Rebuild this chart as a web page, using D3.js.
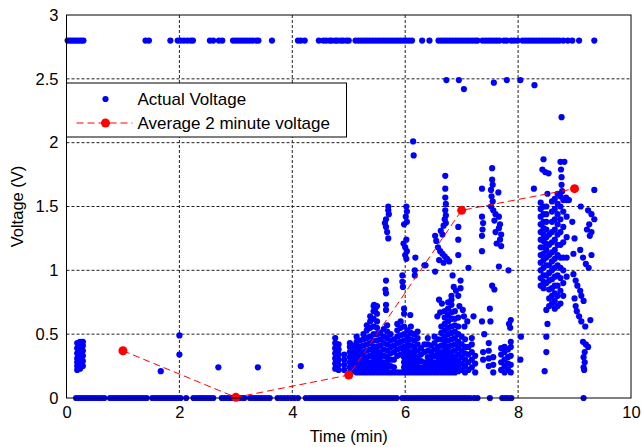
<!DOCTYPE html>
<html>
<head>
<meta charset="utf-8">
<script src="https://cdn.jsdelivr.net/npm/d3@7"></script>
<style>
  body { margin: 0; background: #fff; }
  svg { font-family: "Liberation Sans", Arial, sans-serif; }
  .tick text { font-size: 16.5px; fill: #000; }
</style>
</head>
<body>
<svg width="642" height="447"></svg>
<script>
// average 2 minute voltage
var avgTime = [1, 3, 5, 7, 9];
var avgVolt = [0.37, 0.005, 0.18, 1.47, 1.64];

// readings stuck at the 2.8 V rail
var railVolt = 2.8;
var railTimes = [0.02,0.06,0.1,0.14,0.18,0.22,0.26,0.3,
  1.4,1.46,1.84,1.97,2.02,2.08,2.14,2.2,2.24,
  2.54,2.6,2.7,2.76,2.95,3.0,3.05,3.1,3.15,3.2,3.25,3.3,3.36,3.4,3.64,
  4.1,4.15,4.22,4.47,4.55,4.6,4.66,4.7,4.76,4.8,4.86,4.9,4.96,5.0,
  5.12,5.17,5.22,5.27,5.32,5.37,5.42,5.47,5.52,5.57,5.62,5.67,5.72,5.77,5.82,5.87,5.92,5.97,6.02,6.07,6.12,
  6.3,6.43,6.59,6.64,6.69,6.74,6.79,6.84,6.89,6.94,6.99,7.04,7.09,7.14,7.19,7.24,7.28,
  7.37,7.42,7.47,7.52,7.57,7.62,7.67,7.75,7.8,7.88,7.93,7.99,
  8.08,8.13,8.18,8.23,8.28,8.33,8.38,8.43,8.48,8.53,8.58,8.63,8.68,8.73,8.8,8.88,8.96,9.08,9.35];

// readings at 0 V
var zeroTimes = [0.17,0.22,0.27,0.32,0.37,0.42,0.47,0.52,0.57,0.62,0.67,0.77,0.82,0.87,0.92,0.97,
  1.02,1.07,1.12,1.17,1.22,1.27,1.32,1.37,1.42,1.52,1.57,1.62,1.67,1.72,1.77,1.82,1.87,1.92,1.97,2.02,
  2.12,2.25,2.3,2.35,2.4,2.45,2.5,2.55,2.6,2.75,2.8,2.85,2.9,2.95,3.0,3.05,3.1,3.15,3.25,3.3,3.35,
  3.4,3.45,3.5,3.55,3.6,3.74,3.8,3.86,3.92,3.98,4.04,4.1,4.24,4.3,4.35,4.4,4.45,4.5,4.55,4.6,4.65,
  4.7,4.75,4.8,4.85,4.9,4.95,5.0,5.05,5.1,5.15,5.2,5.25,5.3,5.35,5.4,5.45,5.5,5.55,5.6,5.65,5.7,
  5.75,5.8,5.85,5.95,6.0,6.05,6.1,6.15,6.2,6.25,6.3,6.35,6.4,6.45,6.5,6.55,6.6,6.65,6.7,6.75,6.8,
  6.85,6.9,6.95,7.0,7.05,7.1,7.15,7.22,7.28,7.5,7.72,7.77,7.82,7.88,9.16];

// vertical strips of readings: [time, [voltages]]
var strips = [
  [0.19, [0.22,0.25,0.28,0.31,0.35,0.39,0.43]],
  [0.24, [0.23,0.26,0.3,0.33,0.37,0.4,0.44]],
  [0.29, [0.25,0.29,0.33,0.37,0.41,0.44]],
  [4.76, [0.23,0.27,0.31,0.35,0.39,0.43,0.47]],
  [4.82, [0.22,0.26,0.3,0.34,0.38,0.42]],
  [4.92, [0.22,0.26,0.3,0.34]],
  [5.02, [0.2,0.24,0.28,0.32,0.36,0.4,0.43]],
  [5.08, [0.21,0.25,0.29,0.33,0.37,0.41]],
  [5.14, [0.2,0.24,0.28,0.32,0.36,0.4,0.44,0.48]],
  [5.2, [0.2,0.24,0.28,0.32,0.36,0.4,0.45]],
  [5.26, [0.2,0.24,0.28,0.32,0.36,0.41,0.46,0.5]],
  [5.32, [0.2,0.24,0.28,0.32,0.37,0.42,0.47,0.53,0.57]],
  [5.38, [0.2,0.24,0.28,0.33,0.38,0.43,0.48,0.55,0.6,0.64]],
  [5.44, [0.2,0.24,0.28,0.32,0.36,0.4,0.45,0.5,0.56,0.62,0.68,0.72]],
  [5.5, [0.2,0.24,0.28,0.32,0.36,0.4,0.45,0.5,0.55,0.6,0.66,0.72]],
  [5.56, [0.2,0.24,0.28,0.32,0.36,0.41,0.46,0.51]],
  [5.62, [0.2,0.24,0.28,0.33,0.38,0.43,0.48,0.54]],
  [5.68, [0.2,0.24,0.28,0.32,0.37,0.42,0.47,0.52,0.57]],
  [5.74, [0.2,0.25,0.3,0.35,0.4,0.45,0.5]],
  [5.8, [0.2,0.24,0.3,0.36,0.41,0.46]],
  [5.86, [0.2,0.33,0.38,0.43,0.48,0.53,0.58]],
  [5.92, [0.2,0.34,0.39,0.44,0.49,0.55,0.6]],
  [5.98, [0.2,0.24,0.28,0.32,0.36,0.4,0.45,0.5,0.56]],
  [6.04, [0.2,0.24,0.28,0.32,0.36,0.4,0.44,0.48,0.53]],
  [6.1, [0.2,0.24,0.28,0.32,0.36,0.41,0.46,0.51,0.56]],
  [6.16, [0.2,0.24,0.28,0.32,0.36,0.4,0.45,0.5]],
  [6.22, [0.2,0.24,0.28,0.32,0.37,0.42,0.47,0.52]],
  [6.28, [0.2,0.24,0.29,0.34,0.39]],
  [6.34, [0.2,0.24,0.28,0.36,0.42]],
  [6.4, [0.2,0.24,0.28,0.32,0.37,0.42,0.47]],
  [6.46, [0.2,0.24,0.28,0.32,0.36,0.41]],
  [6.52, [0.2,0.24,0.28,0.33,0.38,0.43,0.48]],
  [6.58, [0.2,0.24,0.28,0.32,0.36,0.4,0.46]],
  [6.64, [0.2,0.24,0.28,0.32,0.36,0.41,0.46,0.51,0.56]],
  [6.7, [0.2,0.24,0.28,0.32,0.36,0.4,0.44,0.48,0.53,0.58,0.63,0.68]],
  [6.76, [0.2,0.24,0.28,0.32,0.36,0.4,0.45,0.5,0.55,0.6,0.65,0.7,0.75]],
  [6.82, [0.2,0.24,0.28,0.32,0.36,0.41,0.46,0.51,0.56,0.62,0.67,0.73,0.77]],
  [6.88, [0.2,0.24,0.28,0.32,0.37,0.42,0.47,0.52,0.57,0.62,0.68]],
  [6.94, [0.21,0.25,0.29,0.34,0.39,0.44,0.5,0.56,0.63]],
  [7.0, [0.22,0.27,0.32,0.37,0.42,0.48]],
  [7.06, [0.2,0.25,0.3,0.35,0.4,0.46]],
  [7.12, [0.22,0.28,0.34,0.4]],
  [7.18, [0.24,0.3,0.36,0.42,0.47]],
  [7.24, [0.2,0.27,0.33]],
  [7.38, [0.3,0.36]],
  [7.48, [0.25,0.31,0.37,0.43]],
  [7.56, [0.2,0.26,0.32]],
  [7.7, [0.22,0.28,0.34,0.39]],
  [7.76, [0.2,0.25,0.3,0.36,0.4]],
  [7.82, [0.22,0.27,0.32,0.38]],
  [7.87, [0.2,0.26,0.33,0.4,0.44]],
  [8.4, [0.88,0.94,1.0,1.06,1.12,1.18,1.24,1.3,1.36,1.42,1.48,1.53]],
  [8.45, [0.86,0.91,0.96,1.02,1.08,1.13,1.18,1.23,1.28,1.33,1.38,1.44,1.5]],
  [8.5, [0.9,0.96,1.04,1.1,1.16,1.21,1.26,1.32,1.38,1.44,1.5]],
  [8.55, [0.72,0.78,0.85,0.92,0.98,1.04,1.12,1.2,1.28]],
  [8.6, [0.74,0.8,0.86,0.93,1.0,1.07,1.14,1.22,1.3,1.38,1.46,1.54]],
  [8.65, [0.7,0.76,0.82,0.88,0.95,1.02,1.09,1.16,1.24,1.32,1.4,1.48,1.56]],
  [8.7, [0.72,0.8,0.88,0.96,1.04,1.12,1.2,1.28,1.36,1.44,1.52]],
  [8.75, [0.74,0.84,0.94,1.02,1.1,1.2,1.3,1.4,1.5,1.58]],
  [8.8, [0.8,0.9,1.0,1.1,1.22,1.34,1.46,1.55]],
  [8.86, [0.95,1.1,1.26,1.42,1.55]]
];

// scattered single readings: [time, voltage]
var loose = [
  [1.67,0.21],[2.0,0.49],[2.0,0.34],[2.69,0.24],[3.39,0.24],[4.15,0.25],
  [6.73,2.49],[6.95,2.49],[7.04,2.42],[7.57,2.47],[7.8,2.49],[8.04,2.49],[8.29,2.45],[8.77,2.2],
  [6.14,2.01],[6.15,1.9],
  [5.7,1.5],[5.7,1.47],[5.71,1.44],[5.66,1.4],[5.64,1.37],[5.66,1.34],[5.68,1.3],[5.7,1.25],
  [5.66,0.92],[5.65,0.85],[5.66,0.82],
  [6.02,1.5],[6.03,1.46],[6.01,1.42],[6.03,1.38],[5.98,1.36],[6.02,1.24],[5.97,1.21],[6.0,1.18],
  [6.03,1.15],[6.0,1.12],[6.02,1.09],
  [6.18,1.1],[6.17,1.0],[6.17,0.96],[6.34,1.04],[5.95,0.96],[5.95,0.91],[5.96,0.87],
  [5.45,0.73],[5.47,0.7],[5.66,0.73],[5.66,0.69],[6.09,0.65],[5.98,0.7],[5.98,0.66],
  [6.71,1.74],[6.71,1.64],[6.71,1.57],[6.72,1.52],[6.71,1.47],[6.72,1.43],[6.7,1.4],[6.72,1.37],
  [6.68,1.35],[6.63,1.31],[6.66,1.28],[6.53,1.27],[6.55,1.23],[6.58,1.18],[6.62,1.15],[6.66,1.13],
  [6.7,1.11],[6.74,1.09],[6.78,1.07],[6.6,1.08],[6.68,1.06],[6.36,1.04],[6.53,0.99],
  [6.94,1.34],[6.94,1.24],[6.94,1.12],[7.12,1.02],
  [7.36,1.64],[7.36,1.42],[7.38,1.37],[7.37,1.32],[7.36,1.27],[7.36,1.15],
  [7.54,1.8],[7.54,1.71],[7.55,1.67],[7.52,1.63],[7.65,1.61],[7.53,1.58],[7.55,1.54],[7.52,1.5],
  [7.56,1.47],[7.6,1.44],[7.66,1.42],[7.58,1.39],[7.68,1.36],[7.66,1.33],[7.6,1.3],[7.7,1.28],
  [7.68,1.24],[7.62,1.21],[7.7,1.19],[7.66,1.03],[7.83,1.0],[7.54,0.88],[7.58,0.85],
  [6.84,0.96],[6.98,0.92],[6.98,0.86],[6.86,0.87],[6.9,0.84],[6.94,0.8],[6.82,0.8],[6.96,0.72],
  [7.02,0.69],[7.04,0.64],[6.6,0.77],[6.65,0.74],[6.62,0.67],[6.57,0.64],[7.21,0.64],[7.36,0.6],
  [7.5,0.7],[7.87,0.61],[7.86,0.55],[7.4,0.5],[7.51,0.6],[7.84,0.58],[8.05,0.48],[8.04,0.3],
  [7.05,0.56],[7.1,0.6],
  [8.45,1.87],[8.43,1.79],[8.48,1.77],[8.54,1.76],[8.75,1.85],[8.82,1.85],[8.76,1.79],[8.77,1.73],
  [8.77,1.67],[8.78,1.62],[8.28,1.64],[8.52,1.6],[8.7,1.6],[8.85,1.57],[8.9,1.55],[9.35,1.63],
  [8.96,1.38],[9.0,1.25],[9.22,1.32],[9.24,1.47],[9.3,1.44],[9.35,1.4],[9.26,1.36],[9.3,1.3],
  [9.27,1.27],[9.11,1.5],[9.1,1.16],[9.15,1.1],[9.2,1.05],[9.25,1.02],[9.3,1.12],[8.98,1.13],
  [8.98,0.97],[9.02,0.92],[9.05,0.88],[9.1,0.84],[9.12,0.8],[9.16,0.76],[9.0,0.78],[9.02,0.72],
  [9.04,0.68],[9.08,0.64],[9.12,0.6],[9.19,0.56],[9.28,0.61],
  [9.15,0.44],[9.2,0.42],[9.24,0.4],[9.18,0.36],[9.16,0.32],[9.18,0.28],[9.16,0.24],[9.17,0.22],
  [8.5,0.69],[8.52,0.58],[8.5,0.48],[8.5,0.36],[8.47,0.21]
];

var xTicks = [0, 2, 4, 6, 8, 10];
var yTicks = [0, 0.5, 1, 1.5, 2, 2.5, 3];

var margins = { top: 15, left: 66.5, right: 11, bottom: 49 };
var screen = { width: 642, height: 447 };
var width = screen.width - margins.left - margins.right;
var height = screen.height - margins.top - margins.bottom;

var xScale = d3.scaleLinear().domain([0, 10]).range([0, width]);
var yScale = d3.scaleLinear().domain([0, 3]).range([height, 0]);

var svg = d3.select("svg");
var plot = svg.append("g")
              .attr("transform", "translate(" + margins.left + "," + margins.top + ")");

// grid
plot.append("g")
    .selectAll("line.gx")
    .data(xTicks.slice(1, -1))
    .enter().append("line")
    .attr("x1", function(d){ return xScale(d); })
    .attr("x2", function(d){ return xScale(d); })
    .attr("y1", 0).attr("y2", height)
    .attr("stroke", "#222").attr("stroke-dasharray", "3,2");
plot.append("g")
    .selectAll("line.gy")
    .data(yTicks.slice(1, -1))
    .enter().append("line")
    .attr("y1", function(d){ return yScale(d); })
    .attr("y2", function(d){ return yScale(d); })
    .attr("x1", 0).attr("x2", width)
    .attr("stroke", "#222").attr("stroke-dasharray", "3,2");

// collect all blue readings
var pts = [];
railTimes.forEach(function(t){ pts.push([t, railVolt]); });
zeroTimes.forEach(function(t){ pts.push([t, 0]); });
strips.forEach(function(s){ s[1].forEach(function(v){ pts.push([s[0], v]); }); });
loose.forEach(function(p){ pts.push(p); });

plot.append("g")
    .selectAll("circle")
    .data(pts)
    .enter().append("circle")
    .attr("cx", function(d){ return xScale(d[0]); })
    .attr("cy", function(d){ return yScale(d[1]); })
    .attr("r", 3.1)
    .attr("fill", "#0000ff");

// average line
var avg = avgTime.map(function(t, i){ return [t, avgVolt[i]]; });
var line = d3.line()
             .x(function(d){ return xScale(d[0]); })
             .y(function(d){ return yScale(d[1]); });
plot.append("path")
    .datum(avg)
    .attr("d", line)
    .attr("fill", "none")
    .attr("stroke", "#ff0000")
    .attr("stroke-width", 1)
    .attr("stroke-dasharray", "7,4");
plot.append("g")
    .selectAll("circle")
    .data(avg)
    .enter().append("circle")
    .attr("cx", function(d){ return xScale(d[0]); })
    .attr("cy", function(d){ return yScale(d[1]); })
    .attr("r", 4.5)
    .attr("fill", "#ff0000");

// axes
var xAxis = d3.axisBottom(xScale).tickValues(xTicks).tickSize(0).tickPadding(8).tickFormat(d3.format("d"));
var yAxis = d3.axisLeft(yScale).tickValues(yTicks).tickSize(0).tickPadding(8).tickFormat(function(d){ return d; });
plot.append("g")
    .attr("transform", "translate(0," + height + ")")
    .call(xAxis)
    .call(function(g){ g.select(".domain").remove(); });
plot.append("g")
    .call(yAxis)
    .call(function(g){ g.select(".domain").remove(); });

plot.append("rect")
    .attr("width", width).attr("height", height)
    .attr("fill", "none").attr("stroke", "#000").attr("stroke-width", 1);

// labels
svg.append("text")
   .attr("x", margins.left + width / 2)
   .attr("y", 442)
   .attr("text-anchor", "middle")
   .attr("font-size", 16.5)
   .text("Time (min)");
svg.append("text")
   .attr("transform", "translate(23," + (margins.top + height / 2) + ") rotate(-90)")
   .attr("text-anchor", "middle")
   .attr("font-size", 16.5)
   .text("Voltage (V)");

// legend
var legend = svg.append("g").attr("transform", "translate(" + margins.left + ",83)");
legend.append("rect")
      .attr("width", 280).attr("height", 54)
      .attr("fill", "#fff").attr("stroke", "#000");
legend.append("circle").attr("cx", 39).attr("cy", 16).attr("r", 3.1).attr("fill", "#0000ff");
legend.append("text").attr("x", 71).attr("y", 22).attr("font-size", 17).text("Actual Voltage");
legend.append("line").attr("x1", 10).attr("x2", 66).attr("y1", 40).attr("y2", 40)
      .attr("stroke", "#ff0000").attr("stroke-dasharray", "7,4");
legend.append("circle").attr("cx", 39).attr("cy", 40).attr("r", 4.5).attr("fill", "#ff0000");
legend.append("text").attr("x", 71).attr("y", 46).attr("font-size", 17).text("Average 2 minute voltage");
</script>
</body>
</html>
